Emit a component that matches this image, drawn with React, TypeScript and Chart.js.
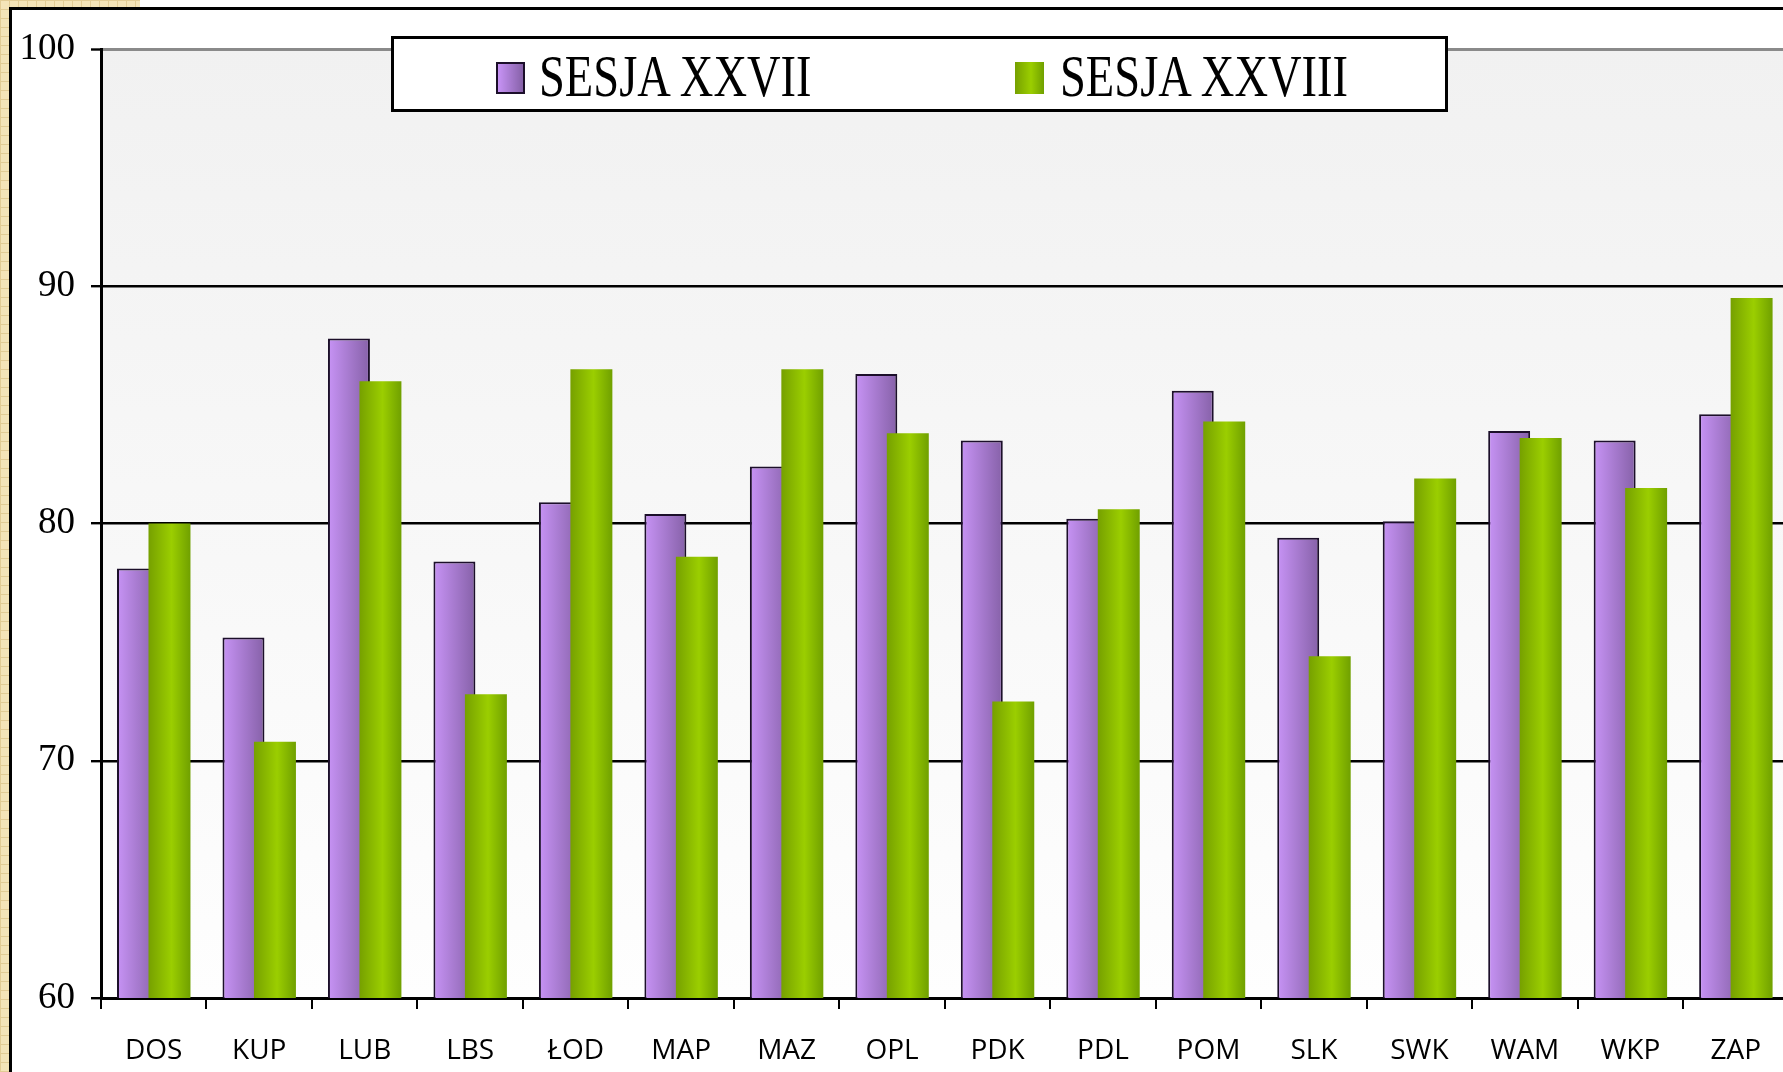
import React, { useEffect, useRef } from "react";
import { Chart, registerables } from "chart.js";

Chart.register(...registerables);

const CATEGORIES = ["DOS", "KUP", "LUB", "LBS", "ŁOD", "MAP", "MAZ", "OPL", "PDK", "PDL", "POM", "SLK", "SWK", "WAM", "WKP", "ZAP"];
const SERIES_NAMES = ["SESJA XXVII", "SESJA XXVIII"];
const SESJA_XXVII = [78.1, 75.2, 87.8, 78.4, 80.9, 80.4, 82.4, 86.3, 83.5, 80.2, 85.6, 79.4, 80.1, 83.9, 83.5, 84.6];
const SESJA_XXVIII = [80.0, 70.8, 86.0, 72.8, 86.5, 78.6, 86.5, 83.8, 72.5, 80.6, 84.3, 74.4, 81.9, 83.6, 81.5, 89.5];
const Y_MIN = 60;
const Y_MAX = 100;
const Y_STEP = 10;

const CAT_PCT = 0.597;
const BAR_PCT = 1.333;

const PURPLE_STOPS: [number, string][] = [[0, "#c793f5"], [1, "#8661a8"]];
const GREEN_STOPS: [number, string][] = [[0, "#76a000"], [0.55, "#9bce00"], [1, "#70a000"]];

function barGradient(stops: [number, string][]) {
  return (ctx: any) => {
    const chart = ctx.chart;
    const xs = chart.scales && chart.scales.x;
    if (!xs || ctx.dataIndex == null || !isFinite(xs.width)) return stops[0][1];
    const n = CATEGORIES.length;
    const cat = xs.width / n;
    const slot = (cat * CAT_PCT) / 2;
    const c = xs.getPixelForValue(ctx.dataIndex) + (ctx.datasetIndex - 0.5) * slot;
    const w = slot * BAR_PCT;
    const g = chart.ctx.createLinearGradient(c - w / 2, 0, c + w / 2, 0);
    stops.forEach(([o, col]) => g.addColorStop(o, col));
    return g;
  };
}

const plotBackground = {
  id: "plotBackground",
  beforeDraw(chart: any) {
    const { ctx, chartArea: a } = chart;
    if (!a) return;
    const g = ctx.createLinearGradient(0, a.top, 0, a.bottom);
    g.addColorStop(0, "#f1f1f1");
    g.addColorStop(1, "#fefefe");
    ctx.save();
    ctx.fillStyle = g;
    ctx.fillRect(a.left, a.top, a.right - a.left, a.bottom - a.top);
    ctx.restore();
  },
};

// draw first dataset underneath the second one (green overlaps purple)
const drawOrder = {
  id: "drawOrder",
  beforeDatasetsDraw(chart: any) {
    const { ctx, chartArea: a } = chart;
    ctx.save();
    ctx.beginPath();
    ctx.rect(a.left, a.top, a.right - a.left, a.bottom - a.top);
    ctx.clip();
    for (let i = 0; i < chart.data.datasets.length; i++) {
      const meta = chart.getDatasetMeta(i);
      if (meta.visible !== false) meta.controller.draw();
    }
    ctx.restore();
    return false;
  },
};

const beige: React.CSSProperties = {
  position: "absolute",
  backgroundColor: "#f4e4b8",
  backgroundImage:
    "linear-gradient(#e2cc95 1px, transparent 1px), linear-gradient(90deg, #e2cc95 1px, transparent 1px)",
  backgroundSize: "9px 9px",
};

export default function App() {
  const ref = useRef<HTMLCanvasElement | null>(null);

  useEffect(() => {
    if (!ref.current) return;
    const chart = new Chart(ref.current, {
      type: "bar",
      data: {
        labels: CATEGORIES,
        datasets: [
          {
            label: SERIES_NAMES[0],
            data: SESJA_XXVII,
            backgroundColor: barGradient(PURPLE_STOPS),
            borderColor: "#1c0f2a",
            borderWidth: 2,
            borderSkipped: "bottom",
            categoryPercentage: CAT_PCT,
            barPercentage: BAR_PCT,
          },
          {
            label: SERIES_NAMES[1],
            data: SESJA_XXVIII,
            backgroundColor: barGradient(GREEN_STOPS),
            borderWidth: 0,
            categoryPercentage: CAT_PCT,
            barPercentage: BAR_PCT,
          },
        ],
      },
      options: {
        responsive: false,
        animation: false,
        devicePixelRatio: 1,
        layout: { padding: { left: 0, top: 39, right: 23.4, bottom: 0 } },
        plugins: {
          legend: { display: false },
          tooltip: { enabled: false },
          title: { display: false },
        },
        scales: {
          x: {
            offset: true,
            z: 1,
            afterFit(s: any) {
              s.height = 74;
            },
            grid: {
              offset: true,
              drawOnChartArea: false,
              drawTicks: true,
              tickLength: 11,
              color: "#000",
              lineWidth: 2,
            },
            border: { color: "#000", width: 3 },
            ticks: {
              color: "#000",
              padding: 25,
              autoSkip: false,
              maxRotation: 0,
              font: { family: '"Open Sans", sans-serif', size: 28 },
            },
          },
          y: {
            min: Y_MIN,
            max: Y_MAX,
            afterFit(s: any) {
              s.width = 89;
            },
            grid: {
              color: (c: any) => (c.tick && c.tick.value === Y_MAX ? "#8a8a8a" : "#000"),
              lineWidth: (c: any) => (c.tick && c.tick.value === Y_MAX ? 3 : 2.4),
              tickColor: "#000",
              tickWidth: 2.4,
              tickLength: 10,
              drawTicks: true,
            },
            border: { color: "#000", width: 3 },
            ticks: {
              stepSize: Y_STEP,
              padding: 16,
              color: "#000",
              font: { family: '"Liberation Serif", "Times New Roman", serif', size: 37 },
            },
          },
        },
      },
      plugins: [plotBackground, drawOrder],
    });
    return () => chart.destroy();
  }, []);

  const legendText: React.CSSProperties = {
    position: "absolute",
    top: 40,
    height: 74,
    display: "flex",
    alignItems: "center",
    fontFamily: '"Liberation Serif", "Times New Roman", serif',
    fontSize: 46.5,
    color: "#000",
    whiteSpace: "nowrap",
  };

  return (
    <div
      style={{
        position: "fixed",
        left: 0,
        top: 0,
        width: 1783,
        height: 1072,
        overflow: "hidden",
        background: "#fff",
      }}
    >
      <div style={{ ...beige, left: 0, top: 0, width: 140, height: 7 }} />
      <div style={{ ...beige, left: 0, top: 0, width: 9, height: 1072 }} />
      <div
        style={{
          position: "absolute",
          left: 9,
          top: 7,
          width: 1820,
          height: 1100,
          borderLeft: "3px solid #000",
          borderTop: "3px solid #000",
          background: "#fff",
        }}
      />
      <canvas ref={ref} width={1800} height={1062} style={{ position: "absolute", left: 12, top: 10 }} />
      <div
        style={{
          position: "absolute",
          left: 391,
          top: 36,
          width: 1057,
          height: 76,
          boxSizing: "border-box",
          border: "3px solid #000",
          background: "#fff",
        }}
      />
      <div
        style={{
          position: "absolute",
          left: 496,
          top: 62,
          width: 29,
          height: 32,
          boxSizing: "border-box",
          border: "2px solid #1c0f2a",
          background: "linear-gradient(to right, #c793f5, #8661a8)",
        }}
      />
      <div style={{ ...legendText, left: 539 }}>
        <span style={{ display: "inline-block", lineHeight: 1, transform: "scaleY(1.25)" }}>{SERIES_NAMES[0]}</span>
      </div>
      <div
        style={{
          position: "absolute",
          left: 1015,
          top: 62,
          width: 29,
          height: 32,
          background: "linear-gradient(to right, #76a000, #9bce00 55%, #70a000)",
        }}
      />
      <div style={{ ...legendText, left: 1060 }}>
        <span style={{ display: "inline-block", lineHeight: 1, transform: "scaleY(1.25)" }}>{SERIES_NAMES[1]}</span>
      </div>
    </div>
  );
}
